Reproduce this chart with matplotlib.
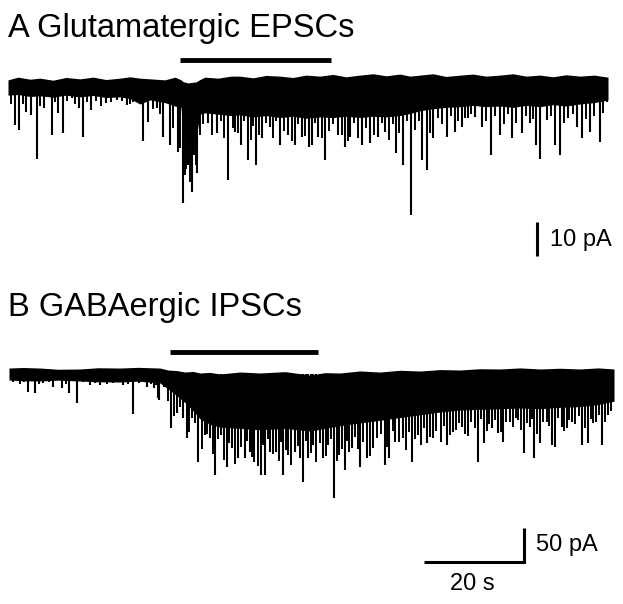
import numpy as np
import matplotlib
matplotlib.use("Agg")
import matplotlib.pyplot as plt

plt.rcParams['font.family'] = ['Liberation Sans', 'DejaVu Sans']

# ---- trace A: glutamatergic EPSCs (time s, current pA) ----
# solid part of the noise band (upper / lower edge)
envA_t = [0.0, 2.0, 4.4, 6.4, 9.0, 11.6, 14.4, 17.0, 19.6, 22.4, 24.4, 26.4, 28.4,
          31.4, 33.4, 34.6, 35.0, 36.0, 37.6, 38.4, 39.4, 42.0, 44.6, 46.4, 49.0,
          51.6, 54.4, 57.0, 59.6, 62.4, 65.0, 67.6, 70.4, 73.0, 75.6, 78.4, 80.4,
          82.4, 85.0, 87.6, 90.4, 93.0, 95.6, 98.4, 101.0, 103.6, 106.4, 109.0,
          111.6, 114.4, 117.2, 120.0]
envA_up = [2.1, 2.9, 2.3, 2.6, 2.0, 2.8, 2.4, 2.9, 2.2, 2.6, 3.0, 2.6, 2.4,
           2.1, 2.9, 2.1, 1.6, 1.2, 1.5, 2.2, 2.9, 2.6, 3.2, 3.2, 2.7,
           3.4, 3.2, 2.8, 3.5, 3.2, 3.7, 3.0, 3.5, 3.9, 3.3, 3.8, 3.2,
           3.5, 3.9, 3.1, 3.5, 3.8, 3.2, 3.5, 3.9, 3.2, 3.5, 3.0,
           3.6, 3.2, 3.5, 2.9]
envA_lo = [-2.4, -2.2, -2.8, -2.6, -3.0, -2.4, -2.9, -2.5, -3.1, -2.9, -3.4, -5.0, -3.8,
           -4.6, -5.6, -6.0, -14.0, -17.0, -15.0, -8.0, -7.6, -8.0, -8.4, -8.2, -8.8,
           -8.4, -9.0, -8.6, -9.2, -8.8, -9.0, -8.6, -9.0, -8.6, -8.8, -8.4, -7.8,
           -7.0, -6.4, -6.0, -5.8, -5.4, -5.8, -5.6, -6.0, -5.4, -5.8, -5.2,
           -5.6, -5.0, -4.6, -3.8]
# larger events (peak time, peak amplitude)
evA_t = [1.4, 2.2, 3.6, 4.6, 5.8, 7.2, 8.8, 10.0, 11.0, 12.8, 14.2, 15.0, 16.6,
         19.6, 21.8, 23.8, 25.0, 27.0, 28.0, 29.8, 31.0, 32.4, 34.0, 35.0, 36.0,
         36.8, 37.8, 40.0, 41.8, 44.0, 45.4, 46.6, 48.0, 49.6, 50.8, 52.4, 54.4,
         56.0, 57.4, 58.8, 60.2, 60.8, 62.0, 63.4, 66.0, 67.4, 68.4, 70.8, 72.4,
         74.0, 75.4, 77.6, 79.0, 80.6, 82.8, 83.8, 85.0, 87.8, 89.4, 90.8, 92.0,
         93.4, 94.8, 96.6, 98.4, 100.8, 102.8, 104.4, 105.6, 106.4, 107.8, 109.4,
         110.4, 112.0, 113.8, 114.8, 116.4, 118.4, 119.8]
evA_amp = [-11.2, -12.6, -7.4, -8.2, -21.2, -6.2, -14.1, -7.6, -13.5, -3.2, -6.2,
           -14.7, -6.8, -4.7, -3.8, -5.3, -4.4, -15.9, -10.3, -6.2, -14.7, -17.1,
           -19.1, -34.1, -22.9, -30.9, -25.3, -10.6, -13.5, -27.4, -13.2, -17.1,
           -21.5, -22.9, -15.0, -11.8, -17.1, -14.1, -17.1, -14.7, -17.6, -17.1,
           -14.7, -21.5, -14.1, -17.6, -14.7, -17.1, -16.5, -14.7, -13.2, -19.4,
           -22.9, -37.6, -21.5, -24.4, -15.0, -14.7, -13.2, -11.8, -9.1, -8.8,
           -11.8, -20.0, -14.1, -15.0, -13.5, -10.6, -17.1, -21.2, -9.7, -17.1,
           -20.0, -9.1, -11.8, -15.0, -13.2, -16.2, -4.4]
# smaller events making the ragged lower edge
evA2_t = [0.6, 3.0, 6.4, 9.4, 11.8, 13.4, 15.8, 17.6, 18.6, 20.6, 22.8, 24.4, 26.0,
          29.0, 30.4, 33.0, 35.6, 37.2, 39.0, 40.8, 42.6, 43.2, 45.0, 46.0, 47.2,
          48.6, 49.0, 50.2, 51.6, 53.0, 53.6, 55.2, 56.8, 58.0, 59.4, 61.4, 62.8,
          64.2, 65.0, 66.8, 68.0, 69.2, 70.0, 71.6, 73.2, 74.8, 76.2, 77.0, 78.2,
          79.8, 81.4, 82.2, 84.4, 86.0, 86.8, 88.6, 90.0, 91.4, 92.6, 95.6, 97.4,
          99.2, 100.0, 101.6, 103.6, 105.0, 108.6, 111.2, 113.0, 115.6, 117.2, 119.0,
          34.4, 35.3, 35.9, 36.4, 37.0, 37.5, 38.3]
evA2_amp = [-5.0, -5.0, -5.5, -4.5, -4.0, -5.0, -4.5, -4.0, -5.5, -4.5, -4.0, -5.0,
            -4.5, -6.5, -8.0, -12.0, -24.0, -20.0,
            -11, -14, -10, -15, -12, -13.5, -10, -15.5, -11.5, -14, -10.5, -15, -10,
            -13, -16, -11, -14.5, -10.5, -15, -13, -11, -14, -16, -10.5, -15, -12,
            -14, -10.5, -15.5, -11, -13.5, -10, -12.5, -10, -13.5, -9, -11, -8.5,
            -10, -9,
            -8.0, -10.0, -8.5, -11.0, -8.0, -10.5, -8.5, -9.5, -8.5, -10.5, -8.0,
            -9.5, -8.5, -7.5,
            -18, -26, -16, -28, -19, -23, -14]

# ---- trace B: GABAergic IPSCs ----
envB_t = [0.2, 3.0, 6.4, 10.0, 14.4, 18.0, 22.4, 26.0, 30.4, 32.0, 33.8, 35.4, 37.0,
          38.4, 40.4, 42.4, 46.4, 50.4, 55.4, 60.4, 63.4, 66.4, 70.4, 74.4, 78.4,
          82.4, 86.4, 90.4, 94.4, 98.4, 102.4, 106.4, 110.4, 114.4, 118.0, 121.2]
envB_up = [8.8, 9.6, 8.8, 7.0, 7.4, 9.2, 8.8, 9.8, 8.8, 5.9, 5.0, 2.9, 3.8,
           1.5, 2.4, 0.0, 3.0, 1.5, 3.5, -1.5, 2.0, 1.5, 4.5, 2.9, 5.5,
           4.4, 6.5, 5.9, 7.8, 7.4, 9.0, 7.4, 8.5, 7.4, 9.0, 7.4]
envB_lo = [-8.8, -10.0, -10.3, -9.0, -10.3, -11.5, -11.8, -10.5, -13.2, -22.0, -32.0,
           -42.0, -54.0, -66.0, -74.0, -78.0, -80.0, -82.0, -80.0, -84.0, -80.0,
           -76.0, -72.0, -68.0, -64.0, -60.0, -56.0, -53.0, -52.0, -51.0, -50.0,
           -51.0, -49.0, -48.0, -45.0, -40.0]
evB_t = [4.0, 5.4, 7.0, 9.0, 10.8, 12.2, 13.8, 16.4, 18.4, 21.0, 23.0, 25.0, 27.8,
         29.2, 30.0, 30.2, 31.2, 32.6, 33.8, 35.0, 35.8, 36.8, 38.0, 39.4, 40.4,
         41.4, 42.6, 43.8, 44.8, 46.0, 47.4, 48.4, 49.2, 50.6, 51.4, 52.4, 53.6,
         55.0, 56.0, 57.4, 59.0, 60.0, 61.0, 63.0, 64.0, 65.2, 66.2, 67.4, 68.8,
         70.4, 71.8, 73.0, 75.4, 76.2, 77.4, 79.0, 80.8, 82.0, 83.8, 85.0, 87.8,
         89.0, 90.8, 92.0, 94.0, 95.2, 96.8, 98.0, 99.0, 100.4, 102.0, 103.2,
         104.4, 105.2, 106.4, 107.8, 108.8, 109.4, 110.8, 111.8, 112.8, 114.8,
         116.0, 117.6, 118.8, 120.0]
evB_amp = [-26, -28, -13, -19, -21, -28, -43, -16, -16, -13, -16, -59, -19, -21,
           -35, -38, -19, -79, -57, -65, -94, -65, -129, -90, -94, -149, -90, -137,
           -109, -124, -124, -115, -129, -149, -149, -115, -115, -149, -119, -115,
           -159, -124, -104, -124, -104, -182, -119, -141, -109, -137, -124, -109,
           -134, -124, -100, -94, -129, -90, -101, -94, -104, -85, -78, -91, -129,
           -101, -79, -87, -100, -71, -68, -116, -78, -124, -101, -71, -104, -107,
           -78, -79, -71, -104, -101, -71, -104, -60]
evB2_t = [1.0, 2.4, 3.2, 6.2, 8.2, 11.6, 15.0, 17.4, 19.8, 22.2, 24.0, 26.2, 28.6,
          29.6, 32.0, 33.2, 34.4, 36.2, 37.4, 38.8, 39.8, 41.0, 42.0, 43.2, 44.2,
          45.4, 46.6, 47.8, 48.8, 50.0, 51.0, 52.0, 53.0, 54.2, 54.6, 55.6, 56.6,
          58.0, 58.4, 59.6, 60.6, 61.6, 62.4, 63.6, 64.6, 65.8, 66.8, 67.8, 68.2,
          69.4, 70.0, 71.0, 72.4, 73.8, 74.6, 75.8, 77.0, 78.2, 79.6, 80.2, 81.4,
          82.6, 83.2, 84.4, 85.6, 86.6, 87.2, 88.4, 89.6, 90.2, 91.4, 92.6, 93.4,
          94.6, 95.8, 96.2, 97.4, 98.6, 99.6, 101.0, 101.6, 102.6, 103.8, 104.8,
          105.8, 107.0, 108.2, 110.0, 111.2, 112.2, 113.4, 114.2, 115.4, 116.6,
          117.0, 118.2, 119.4, 120.6]
evB2_amp = [-12, -15, -12, -14, -12, -14, -12, -13, -14, -12, -15, -13, -14, -16,
            -40, -62, -48, -85, -72, -110, -88,
            -118, -96, -126, -102, -132, -108, -98, -122, -135, -104, -96, -118,
            -128, -100, -112, -134, -106, -124, -98, -116, -130, -102, -120, -96,
            -128, -110,
            -98, -115, -92, -110, -100, -120, -94, -88, -108, -84, -100, -112, -86,
            -96, -104, -80, -92, -84, -100, -76, -90, -82,
            -72, -88, -70, -80, -66, -84, -74, -68, -86, -70, -78, -64, -82, -72,
            -66, -88, -70, -76, -64, -84, -68, -74, -62, -80, -66, -72, -60, -70, -55]

# drug application bars (start, end in s)
drugA = [34.4, 64.6]
drugB = [32.4, 62.0]

fig = plt.figure(figsize=(6.23, 6.04), dpi=100)

axA = fig.add_axes([0, 0, 1, 1])
axA.set_xlim(-1.6, 123.0)
axA.set_ylim(-152.06, 25.59)   # 10 pA = 34 px
axA.axis('off')

axB = fig.add_axes([0, 0, 1, 1])
axB.patch.set_alpha(0)
axB.set_xlim(-1.6, 123.0)
axB.set_ylim(-338.2, 550.0)    # 50 pA = 34 px
axB.axis('off')

# trace A
axA.fill_between(envA_t, envA_lo, envA_up, color='black', lw=0)
axA.vlines(evA2_t, 0, evA2_amp, color='black', lw=1.4)
axA.vlines(evA_t, 0, evA_amp, color='black', lw=1.5)
axA.plot(drugA, [7.9, 7.9], color='black', lw=3.5, solid_capstyle='butt')
axA.plot([105.8, 105.8], [-39.7, -49.7], color='black', lw=2.2, solid_capstyle='butt')
axA.text(108.4, -45.0, '10 pA', fontsize=17, va='center', ha='left')

# trace B
axB.fill_between(envB_t, envB_lo, envB_up, color='black', lw=0)
axB.vlines(evB2_t, 0, evB2_amp, color='black', lw=1.4)
axB.vlines(evB_t, 0, evB_amp, color='black', lw=1.5)
axB.plot(drugB, [32.4, 32.4], color='black', lw=3.5, solid_capstyle='butt')
axB.plot([83.2, 103.2, 103.2], [-276.5, -276.5, -226.5], color='black', lw=2.2,
         solid_joinstyle='miter', solid_capstyle='butt')
axB.text(105.6, -251.5, '50 pA', fontsize=17, va='center', ha='left')
axB.text(92.8, -308.8, '20 s', fontsize=17, va='center', ha='center')

fig.text(8 / 623, 1 - 37 / 604, 'A Glutamatergic EPSCs', fontsize=23.5, va='baseline', ha='left')
fig.text(8 / 623, 1 - 316 / 604, 'B GABAergic IPSCs', fontsize=23.5, va='baseline', ha='left')

fig.savefig('out.png', dpi=100)
